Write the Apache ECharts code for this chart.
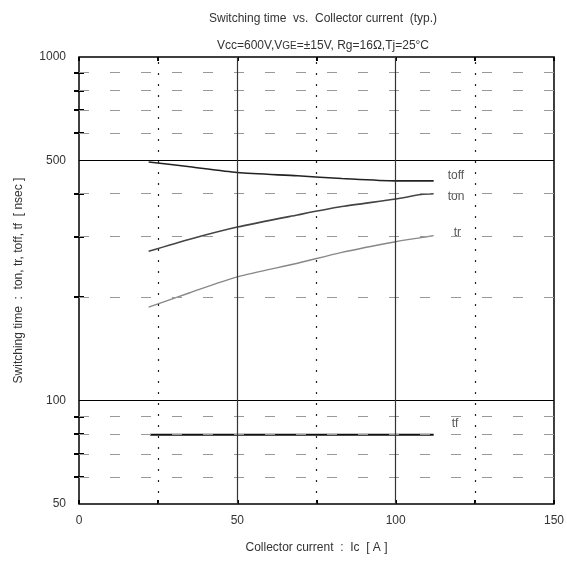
<!DOCTYPE html>
<html>
<head>
<meta charset="utf-8">
<script src="https://cdn.jsdelivr.net/npm/echarts@6/dist/echarts.min.js"></script>
<style>html,body{margin:0;padding:0;background:#fff}#c{width:567px;height:561px}</style>
</head>
<body>
<div id="c"></div>
<script>
// Data
const icValues = [22, 35, 50, 69, 83, 100, 108, 112];
const toff = [495, 479, 461, 451, 443, 436, 436, 436];
const ton  = [272, 295, 320, 347, 367, 386, 398, 400];
const tr   = [187, 206, 229, 251, 270, 290, 298, 302];
const tfX  = [22.5, 112];
const tf   = [79.5, 79.5];

const xTickLabels = [0, 50, 100, 150];
const yTickLabels = [50, 100, 500, 1000];
const yMinorTicks = [60, 70, 80, 90, 200, 300, 400, 600, 700, 800, 900];
const yMajorLines = [100, 500];
const xSolidLines = [50, 100];
const xDottedLines = [25, 75, 125];

const FONT = '"Liberation Sans", Arial, sans-serif';
const chart = echarts.init(document.getElementById('c'));

function pairs(xs, ys) { return xs.map((x, i) => [x, ys[i]]); }

const gridLines = [];
yMajorLines.forEach(v => gridLines.push({ yAxis: v, lineStyle: { color: '#000', width: 1, type: 'solid' } }));
yMinorTicks.forEach(v => gridLines.push({ yAxis: v, lineStyle: { color: '#999', width: 1, type: [10, 21] } }));
xSolidLines.forEach(v => gridLines.push({ xAxis: v, lineStyle: { color: '#333', width: 1.2, type: 'solid' } }));
xDottedLines.forEach(v => gridLines.push({ xAxis: v, lineStyle: { color: '#222', width: 1.2, type: [2, 9] } }));

function curve(name, data, color, width, offset) {
  return {
    name, type: 'line', data, showSymbol: false, smooth: 0.25,
    lineStyle: { color, width },
    endLabel: { show: true, formatter: '{a}', color: '#555', fontFamily: FONT, fontSize: 12, offset: offset },
    emphasis: { disabled: true }, silent: true
  };
}

chart.setOption({
  animation: false,
  textStyle: { fontFamily: FONT },
  title: [
    { text: 'Switching time  vs.  Collector current  (typ.)', left: 318, top: 8, textAlign: 'center',
      textStyle: { fontSize: 12, fontWeight: 'normal', color: '#333', fontFamily: FONT } },
    { text: 'Vcc=600V,V{s|GE}=±15V, Rg=16Ω,Tj=25°C', left: 318, top: 35, textAlign: 'center',
      textStyle: { fontSize: 12, fontWeight: 'normal', color: '#333', fontFamily: FONT,
        rich: { s: { fontSize: 10, color: '#333', fontFamily: FONT } } } }
  ],
  grid: { left: 79, right: 11, top: 57, bottom: 57, show: true, borderColor: '#000', borderWidth: 1.5, containLabel: false },
  xAxis: [
    { type: 'value', min: 0, max: 150, interval: 25, position: 'bottom',
      name: 'Collector current  :  Ic  [ A ]', nameLocation: 'middle', nameGap: 38,
      nameTextStyle: { fontSize: 12, color: '#333', fontFamily: FONT },
      axisLine: { show: false }, splitLine: { show: false },
      axisTick: { show: true, inside: true, length: 4, lineStyle: { color: '#000', width: 2 } },
      axisLabel: { color: '#333', fontSize: 12, margin: 11, fontFamily: FONT,
        formatter: v => xTickLabels.includes(v) ? String(v) : '' } },
    { type: 'value', min: 0, max: 150, interval: 25, position: 'top',
      axisLine: { show: false }, splitLine: { show: false },
      axisTick: { show: true, inside: true, length: 4, lineStyle: { color: '#000', width: 2 } },
      axisLabel: { show: false } }
  ],
  yAxis: [
    { type: 'log', logBase: 10, min: 50, max: 1000, position: 'left',
      name: 'Switching time  :  ton, tr, toff, tf  [ nsec ]', nameLocation: 'middle', nameGap: 54,
      nameTextStyle: { fontSize: 12, color: '#333', fontFamily: FONT },
      axisLine: { show: false }, splitLine: { show: false },
      axisTick: { show: true, inside: true, length: 5, customValues: yMinorTicks, lineStyle: { color: '#000', width: 2 } },
      axisLabel: { color: '#333', fontSize: 12, margin: 13, fontFamily: FONT, customValues: yTickLabels,
        formatter: v => String(Math.round(v)) } },
    { type: 'log', logBase: 10, min: 50, max: 1000, position: 'right',
      axisLine: { show: false }, splitLine: { show: false },
      axisTick: { show: true, inside: true, length: 5, customValues: yMinorTicks, lineStyle: { color: '#000', width: 2 } },
      axisLabel: { show: false } }
  ],
  series: [
    { name: 'grid', type: 'line', data: [], silent: true,
      markLine: { symbol: 'none', silent: true, animation: false, label: { show: false }, data: gridLines } },
    curve('toff', pairs(icValues, toff), '#222', 1.6, [6, -5]),
    curve('ton', pairs(icValues, ton), '#444', 1.6, [6, 3]),
    curve('tr', pairs(icValues, tr), '#888', 1.4, [12, -3]),
    curve('tf', pairs(tfX, tf), '#111', 2, [10, -11])
  ]
});
</script>
</body>
</html>
